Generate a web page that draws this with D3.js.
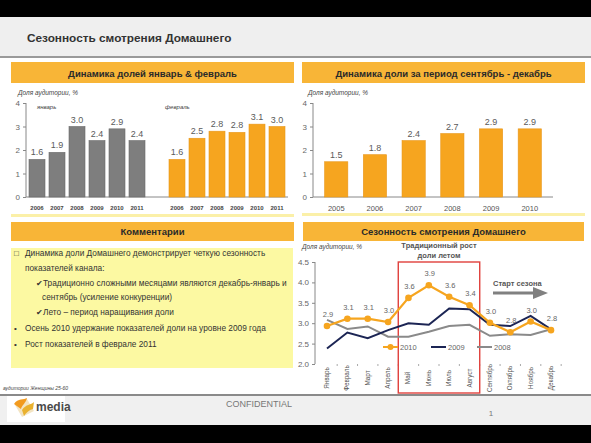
<!DOCTYPE html>
<html><head><meta charset="utf-8">
<script src="https://cdn.jsdelivr.net/npm/d3@7"></script>
<style>
html,body{margin:0;padding:0;background:#fff;}
svg{display:block;font-family:"Liberation Sans",Arial,sans-serif;}
</style></head>
<body>
<script>
// ---------- DATA ----------
const janYears = ["2006","2007","2008","2009","2010","2011"];
const janValues = [1.6, 1.9, 3.0, 2.4, 2.9, 2.4];
const febYears = ["2006","2007","2008","2009","2010","2011"];
const febValues = [1.6, 2.5, 2.8, 2.75, 3.1, 3.0];
const sdYears = ["2005","2006","2007","2008","2009","2010"];
const sdValues = [1.5, 1.8, 2.4, 2.7, 2.9, 2.9];
const shareTicks = [0, 1, 2, 3, 4];
const months = ["Январь","Февраль","Март","Апрель","Май","Июнь","Июль","Август","Сентябрь","Октябрь","Ноябрь","Декабрь"];
const s2010 = [2.93, 3.11, 3.11, 3.03, 3.62, 3.93, 3.65, 3.44, 3.01, 2.78, 3.04, 2.83];
const s2009 = [2.38, 2.77, 2.63, 2.83, 3.00, 2.96, 3.36, 3.34, 2.96, 2.93, 3.18, 2.85];
const s2008 = [3.08, 2.86, 2.92, 2.67, 2.67, 2.79, 2.93, 2.96, 2.69, 2.73, 2.71, 2.85];
const seasonTicks = [2.0, 2.5, 3.0, 3.5, 4.0, 4.5];
const seriesNames = ["2010","2009","2008"];
const comments = [
  {b:"□", t:"Динамика доли Домашнего демонстрирует четкую сезонность", lvl:0},
  {b:"", t:"показателей канала:", lvl:0},
  {b:"", t:"✔Традиционно сложными месяцами являются декабрь-январь и", lvl:1},
  {b:"", t:"сентябрь (усиление конкуренции)", lvl:2},
  {b:"", t:"✔Лето – период наращивания доли", lvl:1},
  {b:"•", t:"Осень 2010 удержание показателей доли на уровне 2009 года", lvl:0},
  {b:"•", t:"Рост показателей в феврале 2011", lvl:0}
];

// ---------- STYLE ----------
const ORANGE = "#F6A51F", HEADER = "#F8B537", GRAYBAR = "#7E7E7E";
const NAVY = "#1C2554", GRAYLINE = "#8A8A8A", TXT = "#5a5a5a";

const svg = d3.select("body").append("svg").attr("width",591).attr("height",443);

// slide decor
svg.append("rect").attr("x",0).attr("y",0).attr("width",591).attr("height",443).attr("fill","#fff");
svg.append("rect").attr("x",0).attr("y",0).attr("width",591).attr("height",17).attr("fill","#000");
svg.append("rect").attr("x",0).attr("y",17).attr("width",591).attr("height",39).attr("fill","#EFEFEF");
svg.append("rect").attr("x",0).attr("y",56).attr("width",591).attr("height",2).attr("fill","#9a9a9a");
svg.append("text").attr("x",27).attr("y",42).attr("font-size",11.8).attr("font-weight","bold").attr("fill","#333")
  .text("Сезонность смотрения Домашнего");

// footer
svg.append("rect").attr("x",0).attr("y",394).attr("width",591).attr("height",2).attr("fill","#8a8a8a");
svg.append("rect").attr("x",0).attr("y",396).attr("width",591).attr("height",29).attr("fill","#F0F0F0");
svg.append("rect").attr("x",0).attr("y",425).attr("width",591).attr("height",18).attr("fill","#000");
svg.append("rect").attr("x",7).attr("y",396).attr("width",58).attr("height",26).attr("fill","#fff");
svg.append("text").attr("x",259).attr("y",407).attr("text-anchor","middle").attr("font-size",9).attr("fill","#777").text("CONFIDENTIAL");
svg.append("text").attr("x",491).attr("y",416).attr("text-anchor","middle").attr("font-size",8).attr("fill","#777").text("1");
svg.append("text").attr("x",3).attr("y",390).attr("font-size",5).attr("font-style","italic").attr("fill","#444").text("аудитории Женщины 25-60");
// logo
const logo = svg.append("g");
logo.append("path").attr("d","M15,405 L27,399 L34,411 L22,417 Z").attr("fill","#F3E4C2");
logo.append("path").attr("d","M14,404 C18,398 24,400 27,398 C26,403 22,405 21,409 Z").attr("fill","#F29A1E");
logo.append("path").attr("d","M22,410 C26,404 31,405 34,402 L33,409 C29,410 26,413 24,416 Z").attr("fill","#E9B12E");
logo.append("text").attr("x",36).attr("y",411).attr("font-size",12).attr("font-weight","bold").attr("fill","#4a4a4a").text("media");

// headers
function header(x,y,w,h,text,ty){
  svg.append("rect").attr("x",x).attr("y",y).attr("width",w).attr("height",h).attr("fill",HEADER);
  svg.append("text").attr("x",x+w/2).attr("y",ty).attr("text-anchor","middle").attr("font-size",9.5)
    .attr("font-weight","bold").attr("fill","#2a2a2a").text(text);
}
header(11,62,283,21,"Динамика долей январь & февраль",76.5);
header(302,62,283,21,"Динамика доли за период сентябрь - декабрь",76.5);
header(11,222,283,19,"Комментарии",235);
header(303,222,281,19,"Сезонность смотрения Домашнего",235);
svg.append("rect").attr("x",11).attr("y",214).attr("width",283).attr("height",3).attr("fill","#FBF0A8");
svg.append("rect").attr("x",302).attr("y",213).attr("width",283).attr("height",3).attr("fill","#FBF0A8");

// ---------- CHART 1: Jan & Feb ----------
const y1 = d3.scaleLinear().domain([0,4]).range([197,103]);
const xJan = d3.scaleBand().domain(janYears).range([27,147]).paddingInner(0.2).paddingOuter(0.1);
const xFeb = d3.scaleBand().domain(febYears).range([167,287]).paddingInner(0.2).paddingOuter(0.1);

function yAxis(g, scale, x, ticks, fmt){
  const ax = g.append("g").attr("transform",`translate(${x},0)`)
    .call(d3.axisLeft(scale).tickValues(ticks).tickSize(3).tickPadding(3).tickFormat(fmt));
  ax.select(".domain").attr("stroke","#888").attr("d",`M0,${scale.range()[0]}V${scale.range()[1]}`);
  ax.selectAll(".tick line").attr("stroke","#888");
  ax.selectAll(".tick text").attr("font-size",8).attr("fill","#666").attr("font-family","Liberation Sans, Arial, sans-serif");
  return ax;
}
const c1 = svg.append("g");
c1.append("text").attr("x",18).attr("y",95).attr("font-size",6.5).attr("font-style","italic").attr("fill","#444").text("Доля аудитории, %");
yAxis(c1, y1, 26, shareTicks, d3.format("d"));
c1.append("line").attr("x1",26).attr("x2",288).attr("y1",y1(0)).attr("y2",y1(0)).attr("stroke","#888");
c1.append("text").attr("x",37).attr("y",109).attr("font-size",6).attr("font-style","italic").attr("fill","#444").text("январь");
c1.append("text").attr("x",165).attr("y",109).attr("font-size",6).attr("font-style","italic").attr("fill","#444").text("февраль");

function bars(g, xs, cats, vals, fill, stroke, lblSize){
  g.selectAll(null).data(cats).enter().append("rect")
    .attr("x",d=>xs(d)).attr("width",xs.bandwidth())
    .attr("y",(d,i)=>y1(vals[i])).attr("height",(d,i)=>y1(0)-y1(vals[i]))
    .attr("fill",fill).attr("stroke",stroke).attr("stroke-width",0.6);
  g.selectAll(null).data(cats).enter().append("text")
    .attr("x",d=>xs(d)+xs.bandwidth()/2).attr("y",(d,i)=>y1(vals[i])-4)
    .attr("text-anchor","middle").attr("font-size",lblSize).attr("fill",TXT)
    .text((d,i)=>d3.format(".1f")(vals[i]));
}
bars(c1, xJan, janYears, janValues, GRAYBAR, "#6a6a6a", 9);
bars(c1, xFeb, febYears, febValues, ORANGE, "#e8961a", 9);
[xJan, xFeb].forEach((xs,k)=>{
  const cats = k===0?janYears:febYears;
  c1.selectAll(null).data(cats).enter().append("text")
    .attr("x",d=>xs(d)+xs.bandwidth()/2).attr("y",210).attr("text-anchor","middle")
    .attr("font-size",6).attr("font-weight","bold").attr("fill","#444").text(d=>d);
});

// ---------- CHART 2: Sep-Dec ----------
const c2 = svg.append("g");
const x2 = d3.scaleBand().domain(sdYears).range([313,553]).paddingInner(0.4).paddingOuter(0.3);
c2.append("text").attr("x",308).attr("y",95).attr("font-size",6.5).attr("font-style","italic").attr("fill","#444").text("Доля аудитории, %");
yAxis(c2, y1, 313, shareTicks, d3.format("d"));
c2.append("line").attr("x1",313).attr("x2",553).attr("y1",y1(0)).attr("y2",y1(0)).attr("stroke","#888");
bars(c2, x2, sdYears, sdValues, ORANGE, "#e8961a", 9);
c2.selectAll(null).data(sdYears).enter().append("text")
  .attr("x",d=>x2(d)+x2.bandwidth()/2).attr("y",211).attr("text-anchor","middle")
  .attr("font-size",7.5).attr("fill","#555").text(d=>d);

// ---------- COMMENTS ----------
svg.append("rect").attr("x",11).attr("y",248).attr("width",282).attr("height",120).attr("fill","#FCF9A2");
const cy = [256, 271, 286, 300, 315, 331, 347];
const cx = [25, 36, 42];
comments.forEach((c,i)=>{
  if(c.b) svg.append("text").attr("x",14).attr("y",cy[i]).attr("font-size",8).attr("fill","#333").text(c.b);
  svg.append("text").attr("x",cx[c.lvl]).attr("y",cy[i]).attr("font-size",8.3).attr("fill","#333").text(c.t);
});

// ---------- CHART 3: seasonality ----------
const c3 = svg.append("g");
const x3 = d3.scalePoint().domain(months).range([327,551]);
const step3 = x3.step();
const y3 = d3.scaleLinear().domain([2,4.5]).range([364,262]);
c3.append("text").attr("x",302).attr("y",249).attr("font-size",6.5).attr("font-style","italic").attr("fill","#444").text("Доля аудитории, %");
yAxis(c3, y3, 315, seasonTicks, d3.format(".1f"));
// category ticks
c3.selectAll(null).data(months).enter().append("line")
  .attr("x1",d=>x3(d)+step3/2).attr("x2",d=>x3(d)+step3/2).attr("y1",y3(2)).attr("y2",y3(2)+2)
  .attr("stroke","#aaa");
c3.selectAll(null).data(months).enter().append("text")
  .attr("transform",d=>`translate(${x3(d)+2},378) rotate(-90)`).attr("text-anchor","middle")
  .attr("font-size",6.3).attr("fill","#555").text(d=>d);

// red rectangle around summer
c3.append("rect").attr("x",x3("Май")-step3/2).attr("y",y3(4.5)).attr("width",x3("Август")-x3("Май")+step3)
  .attr("height",393-y3(4.5)).attr("fill","none").attr("stroke","#E0403C").attr("stroke-width",1.4);
c3.append("text").attr("x",439).attr("y",248).attr("text-anchor","middle").attr("font-size",7.5).attr("font-weight","bold").attr("fill","#555").text("Традиционный рост");
c3.append("text").attr("x",439).attr("y",258).attr("text-anchor","middle").attr("font-size",7.5).attr("font-weight","bold").attr("fill","#555").text("доли летом");
c3.append("text").attr("x",493).attr("y",286).attr("font-size",7.5).attr("font-weight","bold").attr("fill","#555").text("Старт сезона");
c3.append("line").attr("x1",493).attr("x2",534).attr("y1",293).attr("y2",293).attr("stroke","#808080").attr("stroke-width",3);
c3.append("path").attr("d","M533,287 L548,293 L533,299 Z").attr("fill","#808080");

const line3 = d3.line().x((d,i)=>x3(months[i])).y(d=>y3(d));
c3.append("path").attr("d",line3(s2008)).attr("fill","none").attr("stroke",GRAYLINE).attr("stroke-width",2);
c3.append("path").attr("d",line3(s2009)).attr("fill","none").attr("stroke",NAVY).attr("stroke-width",2);
c3.append("path").attr("d",line3(s2010)).attr("fill","none").attr("stroke",ORANGE).attr("stroke-width",2.2);
c3.selectAll(null).data(s2010).enter().append("circle")
  .attr("cx",(d,i)=>x3(months[i])).attr("cy",d=>y3(d)).attr("r",3.3).attr("fill",ORANGE);
c3.selectAll(null).data(s2010).enter().append("text")
  .attr("x",(d,i)=>x3(months[i])+1).attr("y",d=>y3(d)-9).attr("text-anchor","middle")
  .attr("font-size",7.5).attr("fill","#666").text(d=>d3.format(".1f")(d));

// legend
const legColors = [ORANGE, NAVY, GRAYLINE];
const legX = [383, 431, 477];
seriesNames.forEach((n,i)=>{
  const g = c3.append("g");
  g.append("line").attr("x1",legX[i]).attr("x2",legX[i]+15).attr("y1",347).attr("y2",347).attr("stroke",legColors[i]).attr("stroke-width",2);
  if(i===0) g.append("circle").attr("cx",legX[i]+7.5).attr("cy",347).attr("r",3).attr("fill",ORANGE);
  g.append("text").attr("x",legX[i]+17).attr("y",350).attr("font-size",7.5).attr("fill","#666").text(n);
});
</script>
</body></html>
